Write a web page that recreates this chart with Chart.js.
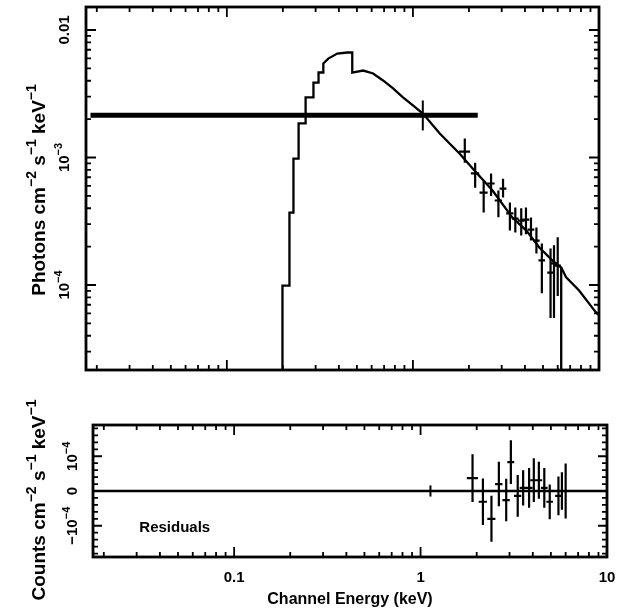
<!DOCTYPE html>
<html>
<head>
<meta charset="utf-8">
<script src="https://cdn.jsdelivr.net/npm/chart.js@4.4.1/dist/chart.umd.min.js"></script>
<style>
  html, body { margin: 0; padding: 0; background: #fff; }
  #wrap { position: relative; width: 637px; height: 612px; }
  canvas { position: absolute; left: 0; }
  #spec { top: 0; }
  #resid { top: 380px; }
</style>
</head>
<body>
<div id="wrap">
  <canvas id="spec" width="637" height="380"></canvas>
  <canvas id="resid" width="637" height="232"></canvas>
</div>
<script>
// axis ranges
const X_MIN = 0.0175, X_MAX = 10;
const Y_MIN = 2.154e-5, Y_MAX = 0.01515;
const R_MIN = -1.9e-4, R_MAX = 1.9e-4;

// data points (keV) with error bars
const energy    = [1.90, 2.16, 2.40, 2.63, 2.88, 3.05, 3.32, 3.55, 3.82, 4.05, 4.31, 4.61, 4.93, 5.49, 5.73, 6.00];
const energyErr = [0.13, 0.11, 0.12, 0.12, 0.13, 0.13, 0.15, 0.15, 0.16, 0.17, 0.18, 0.19, 0.20, 0.22, 0.23, 0.24];
const flux   = [1.11e-3, 7.5e-4, 5.3e-4, 6.25e-4, 4.6e-4, 5.7e-4, 3.64e-4, 3.32e-4, 3.2e-4, 3.26e-4, 2.72e-4, 2.23e-4, 1.56e-4, 1.25e-4, 1.48e-4, 1.42e-4];
const fluxLo = [9.1e-4, 5.8e-4, 3.7e-4, 5.0e-4, 3.4e-4, 4.86e-4, 2.67e-4, 2.58e-4, 2.45e-4, 2.5e-4, 2.23e-4, 1.77e-4, 8.6e-5, 5.5e-5, 5.5e-5, 8.2e-5];
const fluxHi = [1.41e-3, 9.1e-4, 6.6e-4, 7.5e-4, 5.5e-4, 6.8e-4, 4.44e-4, 4.06e-4, 3.99e-4, 4.06e-4, 3.38e-4, 2.82e-4, 2.12e-4, 1.93e-4, 2.05e-4, 2.37e-4];
const residual    = [0.37e-4, -0.31e-4, -0.80e-4, 0.20e-4, -0.26e-4, 0.83e-4, -0.14e-4, 0.09e-4, 0.09e-4, 0.31e-4, 0.31e-4, 0.09e-4, -0.31e-4, -0.14e-4, 0.0, 0.0];
const residualErr = [0.69e-4, 0.67e-4, 0.66e-4, 0.64e-4, 0.61e-4, 0.63e-4, 0.60e-4, 0.51e-4, 0.57e-4, 0.63e-4, 0.53e-4, 0.57e-4, 0.50e-4, 0.56e-4, 0.54e-4, 0.79e-4];

// the one wide low-energy bin
const wideE = 1.13, wideELo = 0.0185, wideEHi = 2.23;
const wideFlux = 2.14e-3, wideFluxLo = 1.63e-3, wideFluxHi = 2.8e-3;
const wideResid = 0, wideResidErr = 0.16e-4;

// model histogram
const modelE = [0.199, 0.199, 0.217, 0.217, 0.228, 0.228, 0.243, 0.243, 0.265, 0.265, 0.292, 0.292, 0.311, 0.311, 0.330, 0.330,
  0.351, 0.392, 0.444, 0.472, 0.472, 0.540, 0.611, 0.691, 0.782, 0.884, 1.0, 1.131, 1.394, 1.784, 2.094, 2.678, 3.425, 4.07,
  4.777, 5.608, 6.264, 6.264];
const modelFlux = [Y_MIN, 9.9e-5, 9.9e-5, 3.7e-4, 3.7e-4, 9.8e-4, 9.8e-4, 1.85e-3, 1.85e-3, 2.96e-3, 2.96e-3, 3.87e-3, 3.87e-3, 4.64e-3, 4.64e-3, 5.46e-3,
  5.97e-3, 6.54e-3, 6.66e-3, 6.66e-3, 4.64e-3, 4.81e-3, 4.56e-3, 4.02e-3, 3.48e-3, 2.96e-3, 2.56e-3, 2.21e-3, 1.54e-3, 1.07e-3, 8.2e-4, 5.51e-4, 3.38e-4, 2.67e-4,
  1.97e-4, 1.56e-4, 1.37e-4, Y_MIN];
const tailE    = [6.264, 6.661, 7.816, 9.176, 9.638, 10.0];
const tailFlux = [1.37e-4, 1.15e-4, 9.06e-5, 6.67e-5, 6.09e-5, 5.8e-5];

// tick labels
const txt = t => ({ t });
const sup = t => ({ t, sup: true });
const specTickValues = [0.01, 1e-3, 1e-4];
const specTickLabels = [[txt('0.01')], [txt('10'), sup('−3')], [txt('10'), sup('−4')]];
const residTickValues = [1e-4, 0, -1e-4];
const residTickLabels = [[txt('10'), sup('−4')], [txt('0')], [txt('−10'), sup('−4')]];
const energyTickValues = [0.1, 1, 10];
const energyTickLabels = ['0.1', '1', '10'];

const FONT = '"Liberation Sans", Arial, Helvetica, sans-serif';

function drawRich(ctx, parts, x, y, size, rotate) {
  ctx.save();
  ctx.translate(x, y);
  if (rotate) ctx.rotate(-Math.PI / 2);
  ctx.textBaseline = 'alphabetic';
  ctx.textAlign = 'left';
  const supSize = Math.round(size * 0.72);
  const widths = parts.map(p => {
    ctx.font = 'bold ' + (p.sup ? supSize : size) + 'px ' + FONT;
    return ctx.measureText(p.t).width;
  });
  let cx = -widths.reduce((a, b) => a + b, 0) / 2;
  parts.forEach((p, i) => {
    ctx.font = 'bold ' + (p.sup ? supSize : size) + 'px ' + FONT;
    ctx.fillText(p.t, cx, p.sup ? -size * 0.45 : 0);
    cx += widths[i];
  });
  ctx.restore();
}

function logTicks(min, max) {
  const out = [];
  for (let e = Math.floor(Math.log10(min)); e <= Math.ceil(Math.log10(max)); e++) {
    for (let m = 1; m < 10; m++) {
      const v = m * Math.pow(10, e);
      if (v >= min && v <= max) out.push([v, m === 1 ? 10 : 5]);
    }
  }
  return out;
}

function residTicks() {
  const out = [];
  for (let k = -9; k <= 9; k++) out.push([k * 0.2e-4, k % 5 === 0 ? 9 : 5]);
  return out;
}

// crosses: horizontal + vertical segment per point, broken by null gaps
function crosses(xs, xErr, ys, yLo, yHi) {
  const pts = [];
  xs.forEach((x, i) => {
    if (xErr) pts.push({ x: x - xErr[i], y: ys[i] }, { x: x + xErr[i], y: ys[i] }, { x: x, y: null });
    pts.push({ x: x, y: yLo[i] }, { x: x, y: yHi[i] }, { x: x, y: null });
  });
  return pts;
}

const pairs = (xs, ys) => xs.map((x, i) => ({ x, y: ys[i] }));

const frameTicks = {
  id: 'frameTicks',
  afterDatasetsDraw(chart, args, o) {
    const { ctx, chartArea: a } = chart;
    const xs = chart.scales.x, ys = chart.scales.y;
    ctx.save();
    ctx.strokeStyle = '#000';
    ctx.fillStyle = '#000';
    ctx.lineWidth = 1.8;
    ctx.beginPath();
    o.xTicks.forEach(([v, len]) => {
      const px = xs.getPixelForValue(v);
      ctx.moveTo(px, a.bottom); ctx.lineTo(px, a.bottom - len);
      ctx.moveTo(px, a.top); ctx.lineTo(px, a.top + len);
    });
    o.yTicks.forEach(([v, len]) => {
      const py = ys.getPixelForValue(v);
      ctx.moveTo(a.left, py); ctx.lineTo(a.left + len, py);
      ctx.moveTo(a.right, py); ctx.lineTo(a.right - len, py);
    });
    ctx.stroke();
    ctx.lineWidth = 2.8;
    ctx.strokeRect(a.left, a.top, a.right - a.left, a.bottom - a.top);

    o.yLabels.forEach((parts, i) => {
      drawRich(ctx, parts, a.left - o.yLabelGap, ys.getPixelForValue(o.yLabelValues[i]), 15, true);
    });
    drawRich(ctx, o.yTitle, o.yTitleX, o.yTitleY, 19, true);

    if (o.xLabels) {
      o.xLabels.forEach((t, i) => {
        drawRich(ctx, [txt(t)], xs.getPixelForValue(o.xLabelValues[i]), a.bottom + 25, 15, false);
      });
      drawRich(ctx, [txt(o.xTitle)], (a.left + a.right) / 2, a.bottom + 47, 16, false);
    }
    if (o.note) {
      ctx.font = 'bold 15px ' + FONT;
      ctx.textAlign = 'left';
      ctx.textBaseline = 'middle';
      ctx.fillText(o.note.text, xs.getPixelForValue(o.note.x), ys.getPixelForValue(o.note.y));
    }
    ctx.restore();
  }
};

const lineStyle = { borderColor: '#000', backgroundColor: '#000', pointRadius: 0, fill: false, tension: 0, spanGaps: false };

new Chart(document.getElementById('spec').getContext('2d'), {
  type: 'line',
  data: {
    datasets: [
      { ...lineStyle, data: pairs(modelE, modelFlux), borderWidth: 2.3 },
      { ...lineStyle, data: pairs(tailE, tailFlux), borderWidth: 2.3 },
      { ...lineStyle, data: [{ x: wideELo, y: wideFlux }, { x: wideEHi, y: wideFlux }], borderWidth: 5 },
      { ...lineStyle, data: crosses([wideE], null, [wideFlux], [wideFluxLo], [wideFluxHi]), borderWidth: 2 },
      { ...lineStyle, data: crosses(energy, energyErr, flux, fluxLo, fluxHi), borderWidth: 2.2 }
    ]
  },
  options: {
    responsive: false,
    animation: false,
    layout: { padding: { left: 86, right: 38, top: 7, bottom: 10 } },
    scales: {
      x: { type: 'logarithmic', min: X_MIN, max: X_MAX, display: false },
      y: { type: 'logarithmic', min: Y_MIN, max: Y_MAX, display: false }
    },
    plugins: {
      legend: { display: false },
      tooltip: { enabled: false },
      frameTicks: {
        xTicks: logTicks(X_MIN, X_MAX),
        yTicks: logTicks(Y_MIN, Y_MAX),
        yLabels: specTickLabels,
        yLabelValues: specTickValues,
        yLabelGap: 17,
        yTitle: [txt('Photons cm'), sup('−2'), txt(' s'), sup('−1'), txt(' keV'), sup('−1')],
        yTitleX: 45,
        yTitleY: 190
      }
    }
  },
  plugins: [frameTicks]
});

new Chart(document.getElementById('resid').getContext('2d'), {
  type: 'line',
  data: {
    datasets: [
      { ...lineStyle, data: [{ x: X_MIN, y: 0 }, { x: X_MAX, y: 0 }], borderWidth: 2.4 },
      { ...lineStyle, data: crosses([wideE], null, [wideResid], [wideResid - wideResidErr], [wideResid + wideResidErr]), borderWidth: 2 },
      { ...lineStyle, data: crosses(energy, energyErr, residual,
          residual.map((r, i) => r - residualErr[i]), residual.map((r, i) => r + residualErr[i])), borderWidth: 2.2 }
    ]
  },
  options: {
    responsive: false,
    animation: false,
    layout: { padding: { left: 93, right: 30, top: 45, bottom: 55 } },
    scales: {
      x: { type: 'logarithmic', min: X_MIN, max: X_MAX, display: false },
      y: { type: 'linear', min: R_MIN, max: R_MAX, display: false }
    },
    plugins: {
      legend: { display: false },
      tooltip: { enabled: false },
      frameTicks: {
        xTicks: logTicks(X_MIN, X_MAX),
        yTicks: residTicks(),
        yLabels: residTickLabels,
        yLabelValues: residTickValues,
        yLabelGap: 16,
        yTitle: [txt('Counts cm'), sup('−2'), txt(' s'), sup('−1'), txt(' keV'), sup('−1')],
        yTitleX: 45,
        yTitleY: 120,
        xLabels: energyTickLabels,
        xLabelValues: energyTickValues,
        xTitle: 'Channel Energy (keV)',
        note: { text: 'Residuals', x: 0.031, y: -1.07e-4 }
      }
    }
  },
  plugins: [frameTicks]
});
</script>
</body>
</html>
